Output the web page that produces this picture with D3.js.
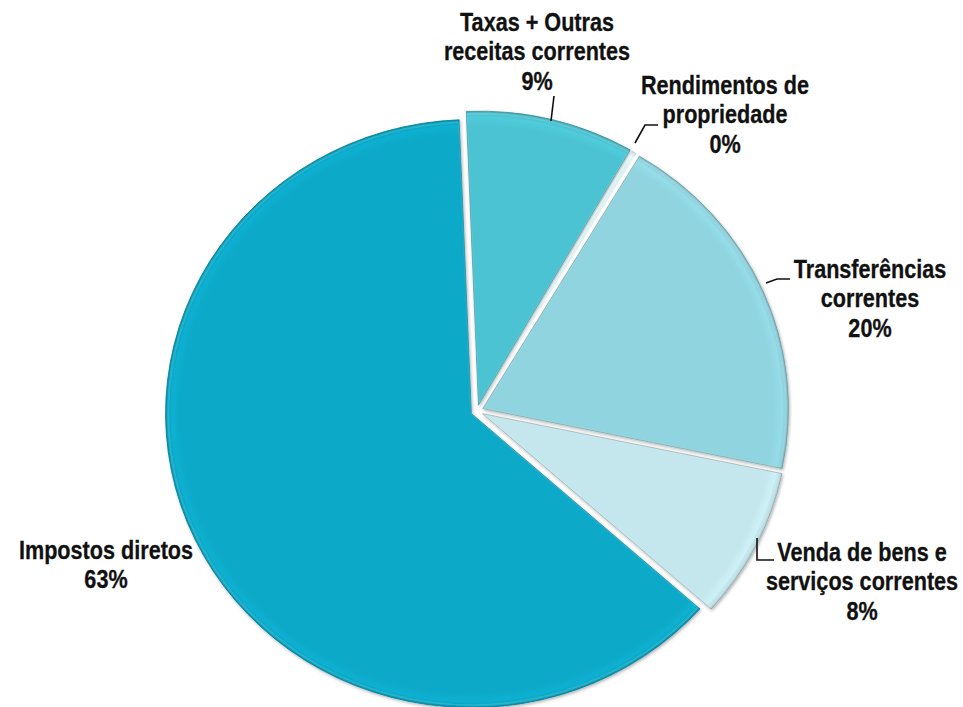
<!DOCTYPE html>
<html>
<head>
<meta charset="utf-8">
<script src="https://cdn.jsdelivr.net/npm/d3@7"></script>
<style>
  html, body { margin: 0; padding: 0; background: #ffffff; }
  svg { display: block; }
  .lbl { font-family: "Liberation Sans", Arial, sans-serif; font-weight: bold; font-size: 25px; fill: #111; stroke: #111; stroke-width: 0.3px; }
</style>
</head>
<body>
<svg id="chart" width="963" height="707"></svg>
<script>
// ---- data ----
const categories = ["Taxas + Outras receitas correntes", "Rendimentos de propriedade", "Transferências correntes", "Venda de bens e serviços correntes", "Impostos diretos"];
const values = [8.9, 0.3, 19.7, 8.3, 62.8];
const labelLines = [
  ["Taxas + Outras", "receitas correntes"],
  ["Rendimentos de", "propriedade"],
  ["Transferências", "correntes"],
  ["Venda de bens e", "serviços correntes"],
  ["Impostos diretos"]
];
const colors = ["#4cc3d2", "#dff0f3", "#8fd4df", "#c3e7ed", "#07a9c8"];

// ---- layout ----
const W = 963, H = 707;
const cx = 477, cy = 411, R = 294, stretchX = 1.04, explode = 6;
const startA = -0.04;
const narrow = 0.865;
// label anchor (center x, first baseline y), line height
const labelPos = [[537, 31], [725, 94], [870, 278], [862, 561], [106, 559]];
const lineH = 29.5;
// leader lines
const leaders = [
  [[554, 96], [551, 121]],
  [[635, 143], [645, 125], [658, 125]],
  [[766, 283], [777, 279], [790, 279]],
  [[757, 538], [757, 560], [774, 560]],
  null
];

const svg = d3.select("#chart");
const defs = svg.append("defs");
const f = defs.append("filter").attr("id", "shadow").attr("x", "-20%").attr("y", "-20%").attr("width", "140%").attr("height", "140%");
f.append("feDropShadow").attr("dx", 1).attr("dy", 1.5).attr("stdDeviation", 1.6).attr("flood-color", "#000").attr("flood-opacity", 0.3);

const pie = d3.pie().sort(null).value(d => d).startAngle(startA).endAngle(startA + 2 * Math.PI);
const arcs = pie(values);
const arc = d3.arc().innerRadius(0).outerRadius(R);
const arcInner = d3.arc().innerRadius(0).outerRadius(R - 2.5);

const g = svg.append("g").attr("transform", `translate(${cx},${cy}) scale(${stretchX},1)`);

const slices = g.selectAll("g.slice").data(arcs).enter().append("g")
  .attr("class", "slice")
  .attr("transform", d => {
    const m = (d.startAngle + d.endAngle) / 2;
    return `translate(${Math.sin(m) * explode},${-Math.cos(m) * explode})`;
  });

arcs.forEach((d, i) => {
  const gr = defs.append("radialGradient").attr("id", "grad" + i)
    .attr("gradientUnits", "userSpaceOnUse").attr("cx", 0).attr("cy", 0).attr("r", R);
  const c = d3.color(colors[i]);
  gr.append("stop").attr("offset", "0%").attr("stop-color", c.formatHex());
  gr.append("stop").attr("offset", "95%").attr("stop-color", c.formatHex());
  gr.append("stop").attr("offset", "98%").attr("stop-color", c.brighter(0.12).formatHex());
  gr.append("stop").attr("offset", "100%").attr("stop-color", c.darker(0.3).formatHex());
});

slices.append("path")
  .attr("d", arc)
  .attr("fill", (d, i) => `url(#grad${i})`)
  .attr("stroke", (d, i) => d3.color(colors[i]).darker(0.9).formatHex())
  .attr("stroke-width", (d, i) => i === 1 ? 0 : 0.8)
  .attr("filter", (d, i) => i === 1 ? null : "url(#shadow)");

slices.filter((d, i) => i !== 1).append("path")
  .attr("d", arcInner)
  .attr("fill", "none")
  .attr("stroke", "#ffffff")
  .attr("stroke-opacity", 0.15)
  .attr("stroke-width", 2);

// labels
const total = d3.sum(values);
labelLines.forEach((lines, i) => {
  const all = lines.concat([Math.round(values[i] / total * 100) + "%"]);
  const t = svg.append("g")
    .attr("transform", `translate(${labelPos[i][0]},${labelPos[i][1]}) scale(${narrow},1)`)
    .append("text").attr("class", "lbl").attr("text-anchor", "middle");
  all.forEach((s, k) => {
    t.append("tspan").attr("x", 0).attr("y", k * lineH).text(s);
  });
});

const line = d3.line();
leaders.forEach(p => {
  if (!p) return;
  svg.append("path").attr("d", line(p)).attr("fill", "none").attr("stroke", "#111").attr("stroke-width", 1.6);
});
</script>
</body>
</html>
